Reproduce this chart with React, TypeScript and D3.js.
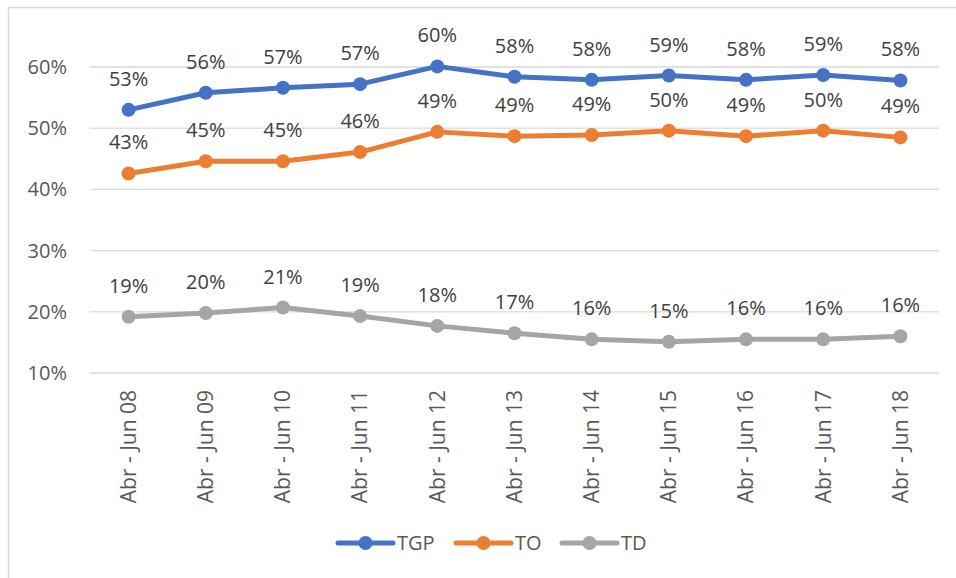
import React, { useRef, useEffect } from 'react';
import * as d3 from 'd3';

const categories = [
  "Abr - Jun 08", "Abr - Jun 09", "Abr - Jun 10", "Abr - Jun 11", "Abr - Jun 12", "Abr - Jun 13",
  "Abr - Jun 14", "Abr - Jun 15", "Abr - Jun 16", "Abr - Jun 17", "Abr - Jun 18",
];
const tgp = [53.0, 55.8, 56.6, 57.2, 60.1, 58.4, 57.9, 58.6, 57.9, 58.7, 57.8];
const to = [42.6, 44.6, 44.6, 46.1, 49.4, 48.7, 48.9, 49.6, 48.7, 49.6, 48.5];
const td = [19.2, 19.8, 20.7, 19.3, 17.7, 16.5, 15.5, 15.1, 15.5, 15.5, 16.0];
const yTicks = [10, 20, 30, 40, 50, 60];

const seriesNames = ["TGP", "TO", "TD"];
const seriesColors = ["#4472C4", "#ED7D31", "#A5A5A5"];

const App = () => {
  const svgRef = useRef(null);
  const width = 956;
  const height = 578;

  useEffect(() => {
    const svg = d3.select(svgRef.current);
    svg.selectAll("*").remove();

    const font = "'Open Sans', sans-serif";
    const textColor = "#595959";

    // chart frame
    svg.append("rect")
      .attr("x", 8.5)
      .attr("y", 7.5)
      .attr("width", 960)
      .attr("height", 580)
      .attr("fill", "white")
      .attr("stroke", "#D9D9D9")
      .attr("stroke-width", 1.5);

    const x = d3.scaleBand()
      .domain(categories)
      .range([90, 939]);

    const y = d3.scaleLinear()
      .domain([10, 60])
      .range([373, 67]);

    const cx = (c) => x(c) + x.bandwidth() / 2;

    // grid lines
    svg.selectAll("line.grid")
      .data(yTicks)
      .join("line")
      .attr("class", "grid")
      .attr("x1", 90)
      .attr("x2", 939)
      .attr("y1", d => y(d))
      .attr("y2", d => y(d))
      .attr("stroke", "#D9D9D9")
      .attr("stroke-width", 1.3);

    // y tick labels
    svg.selectAll("text.ytick")
      .data(yTicks)
      .join("text")
      .attr("class", "ytick")
      .attr("x", 67)
      .attr("y", d => y(d))
      .attr("dy", "0.35em")
      .attr("text-anchor", "end")
      .attr("fill", textColor)
      .attr("font-family", font)
      .attr("font-size", "20px")
      .text(d => `${d}%`);

    // x labels, rotated
    svg.selectAll("text.xtick")
      .data(categories)
      .join("text")
      .attr("class", "xtick")
      .attr("transform", d => `translate(${cx(d)},390) rotate(-90)`)
      .attr("dy", "0.35em")
      .attr("text-anchor", "end")
      .attr("fill", textColor)
      .attr("font-family", font)
      .attr("font-size", "21px")
      .text(d => d);

    const allSeries = [tgp, to, td];
    const line = d3.line()
      .x((d, i) => cx(categories[i]))
      .y(d => y(d));

    allSeries.forEach((values, s) => {
      svg.append("path")
        .datum(values)
        .attr("d", line)
        .attr("fill", "none")
        .attr("stroke", seriesColors[s])
        .attr("stroke-width", 5)
        .attr("stroke-linejoin", "round")
        .attr("stroke-linecap", "round");

      svg.selectAll(`circle.s${s}`)
        .data(values)
        .join("circle")
        .attr("class", `s${s}`)
        .attr("cx", (d, i) => cx(categories[i]))
        .attr("cy", d => y(d))
        .attr("r", 7)
        .attr("fill", seriesColors[s]);

      svg.selectAll(`text.lbl${s}`)
        .data(values)
        .join("text")
        .attr("class", `lbl${s}`)
        .attr("x", (d, i) => cx(categories[i]))
        .attr("y", d => y(d) - 24)
        .attr("text-anchor", "middle")
        .attr("fill", "#404040")
        .attr("font-family", font)
        .attr("font-size", "20px")
        .text(d => `${Math.round(d)}%`);
    });

    // legend
    const legendX = [338, 456, 562];
    const legendY = 543;
    seriesNames.forEach((name, s) => {
      const g = svg.append("g").attr("transform", `translate(${legendX[s]},${legendY})`);
      g.append("line")
        .attr("x1", 0)
        .attr("x2", 55)
        .attr("stroke", seriesColors[s])
        .attr("stroke-width", 5)
        .attr("stroke-linecap", "round");
      g.append("circle")
        .attr("cx", 27.5)
        .attr("r", 7)
        .attr("fill", seriesColors[s]);
      g.append("text")
        .attr("x", 59)
        .attr("dy", "0.35em")
        .attr("fill", textColor)
        .attr("font-family", font)
        .attr("font-size", "20px")
        .text(name);
    });
  }, []);

  return (
    <svg
      ref={svgRef}
      width={width}
      height={height}
      style={{ position: "absolute", left: 0, top: 0, background: "white" }}
    />
  );
};

export default App;
